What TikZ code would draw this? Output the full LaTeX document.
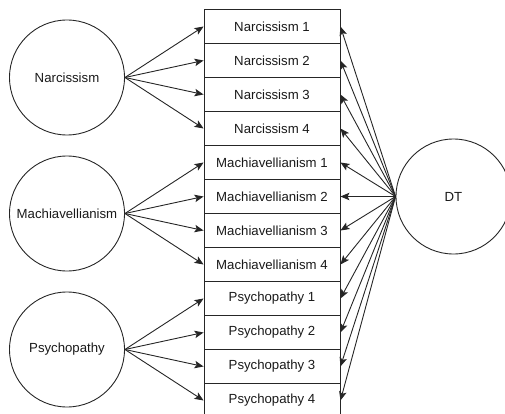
\documentclass[tikz,border=0pt]{standalone}
\usepackage{fontspec}
\setmainfont{Liberation Sans}
\usetikzlibrary{arrows.meta}
\begin{document}
\begin{tikzpicture}[x=1pt,y=-1pt,
  itembox/.style={draw=black!85, line width=0.9pt, minimum width=136pt, minimum height=34pt, inner sep=0pt, font=\fontsize{13.2}{15}\selectfont, text=black!90},
  latent/.style={draw=black!85, line width=0.9pt, circle, minimum size=115pt, inner sep=0pt, font=\fontsize{13.2}{15}\selectfont, text=black!90},
  arr/.style={draw=black!85, line width=0.9pt, -{Stealth[length=9pt,width=7.5pt,inset=2pt]}}]
\useasboundingbox (0,0) rectangle (505,414);
\node[latent] (N) at (67,77.5) {Narcissism};
\node[latent] (M) at (67,213.5) {Machiavellianism};
\node[latent] (P) at (67,349.5) {Psychopathy};
\node[latent] (DT) at (453.5,196.5) {DT};
\node[itembox] (b1) at (272,26.5) {Narcissism 1};
\node[itembox] (b2) at (272,60.5) {Narcissism 2};
\node[itembox] (b3) at (272,94.5) {Narcissism 3};
\node[itembox] (b4) at (272,128.5) {Narcissism 4};
\node[itembox] (b5) at (272,162.5) {Machiavellianism 1};
\node[itembox] (b6) at (272,196.5) {Machiavellianism 2};
\node[itembox] (b7) at (272,230.5) {Machiavellianism 3};
\node[itembox] (b8) at (272,264.5) {Machiavellianism 4};
\node[itembox] (b9) at (272,298.5) {Psychopathy 1};
\node[itembox] (b10) at (272,332.5) {Psychopathy 2};
\node[itembox] (b11) at (272,366.5) {Psychopathy 3};
\node[itembox] (b12) at (272,400.5) {Psychopathy 4};
\foreach \i in {1,...,4} {\draw[arr] (N.east) -- (b\i.west);}
\foreach \i in {5,...,8} {\draw[arr] (M.east) -- (b\i.west);}
\foreach \i in {9,...,12} {\draw[arr] (P.east) -- (b\i.west);}
\foreach \i in {1,...,12} {\draw[arr] (DT.west) -- (b\i.east);}
\end{tikzpicture}
\end{document}
